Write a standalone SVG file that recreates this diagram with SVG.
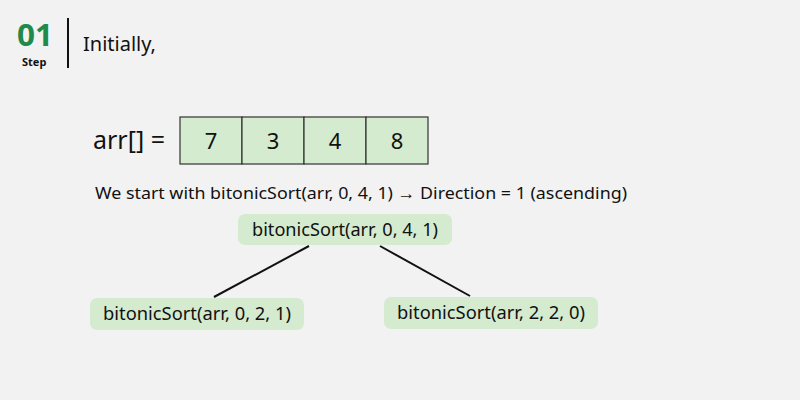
<svg xmlns="http://www.w3.org/2000/svg" width="800" height="400" viewBox="0 0 800 400">
<style>
.t{font-family:"Noto Sans","Liberation Sans",sans-serif;fill:#111;}
.node{fill:#d4ebcf;}
.cell{fill:#d4ebcf;stroke:#333;stroke-width:1.2;}
.edge{stroke:#111;stroke-width:2;}
</style>
<rect width="800" height="400" fill="#f2f2f2"/>
<g id="header">
<text x="17" y="46" font-family="Noto Sans, Liberation Sans, sans-serif" font-size="31" font-weight="bold" fill="#1e8a4c" textLength="36" lengthAdjust="spacingAndGlyphs">01</text>
<text class="t" x="22" y="66" font-size="11" font-weight="bold">Step</text>
<line x1="68" y1="18" x2="68" y2="68" stroke="#111" stroke-width="2"/>
<text class="t" x="83" y="51" font-size="20">Initially,</text>
</g>
<g id="array">
<text class="t" x="93" y="149" font-size="25">arr[] =</text>
<rect class="cell" x="180" y="117" width="62" height="47"/>
<rect class="cell" x="242" y="117" width="62" height="47"/>
<rect class="cell" x="304" y="117" width="62" height="47"/>
<rect class="cell" x="366" y="117" width="62" height="47"/>
<text class="t" x="211" y="149" font-size="22" text-anchor="middle">7</text>
<text class="t" x="273" y="149" font-size="22" text-anchor="middle">3</text>
<text class="t" x="335" y="149" font-size="22" text-anchor="middle">4</text>
<text class="t" x="397" y="149" font-size="22" text-anchor="middle">8</text>
</g>
<text class="t" x="95" y="199" font-size="17" textLength="532" lengthAdjust="spacingAndGlyphs">We start with bitonicSort(arr, 0, 4, 1) → Direction = 1 (ascending)</text>
<g id="connectors">
<line class="edge" x1="309" y1="246" x2="214" y2="297"/>
<line class="edge" x1="380" y1="246" x2="470" y2="296"/>
</g>
<g id="n_root">
<rect class="node" x="238" y="214" width="214" height="31" rx="7"/>
<text class="t" x="345" y="236" font-size="18" text-anchor="middle" textLength="186" lengthAdjust="spacingAndGlyphs">bitonicSort(arr, 0, 4, 1)</text>
</g>
<g id="n_left">
<rect class="node" x="90" y="298" width="214" height="32" rx="7"/>
<text class="t" x="197" y="320" font-size="18" text-anchor="middle" textLength="188" lengthAdjust="spacingAndGlyphs">bitonicSort(arr, 0, 2, 1)</text>
</g>
<g id="n_right">
<rect class="node" x="384" y="297" width="214" height="32" rx="7"/>
<text class="t" x="491" y="319" font-size="18" text-anchor="middle" textLength="188" lengthAdjust="spacingAndGlyphs">bitonicSort(arr, 2, 2, 0)</text>
</g>
</svg>
